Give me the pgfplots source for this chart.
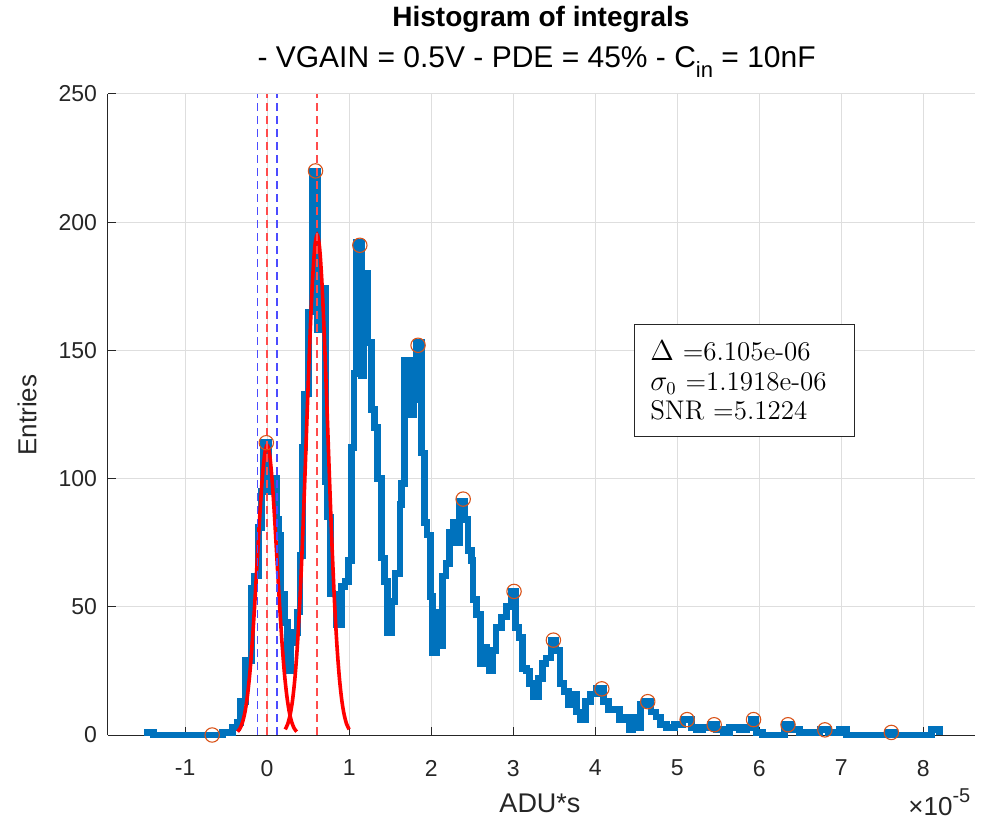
\documentclass[border=0pt]{standalone}
\usepackage{fontspec}
\setmainfont{Liberation Sans}
\newfontfamily\lmfont{Latin Modern Roman}
\usepackage{pgfplots}
\pgfplotsset{compat=1.18}
\definecolor{mblue}{rgb}{0,0.447,0.741}
\definecolor{morange}{rgb}{0.85,0.325,0.098}
\definecolor{axgray}{rgb}{0.15,0.15,0.15}
\definecolor{lred}{rgb}{1,0.3,0.3}
\definecolor{lblue}{rgb}{0.3,0.3,1}
\begin{document}
\begin{tikzpicture}
\begin{axis}[
 name=ax,
 scale only axis, width=433.5pt, height=320.5pt,
 xmin=-1.94, xmax=8.63, ymin=0, ymax=250,
 axis lines=left,
 axis line style={-, draw=axgray, line width=0.5pt},
 x axis line style={-}, y axis line style={-},
 xtick={-1,0,...,8}, xticklabels={-1,0,1,2,3,4,5,6,7,8},
 ytick={0,50,...,250},
 tick align=inside, major tick length=4pt,
 tick style={axgray, line width=0.5pt},
 grid=major, grid style={line width=0.5pt, black!13},
 ticklabel style={font=\fontsize{11.5}{13}\selectfont, text=axgray},
 /pgf/number format/assume math mode=true,
 xticklabel style={yshift=-9pt},
 yticklabel style={xshift=-2pt},
 clip=false,
]
% histogram (left bin edge, count)
\addplot[const plot, mblue, line width=3.4pt] coordinates {
(-1.50,1) (-1.39,0) (-0.54,1) (-0.42,3) (-0.36,5) (-0.32,13) (-0.26,29)
(-0.19,57) (-0.15,62) (-0.11,81) (-0.07,95) (-0.04,114) (0.02,95) (0.06,100)
(0.11,84) (0.14,78) (0.17,55) (0.21,44) (0.25,25) (0.29,36) (0.33,40)
(0.37,48) (0.40,70) (0.43,112) (0.46,133) (0.50,165) (0.55,220) (0.61,158)
(0.65,174) (0.71,99) (0.74,85) (0.77,55) (0.85,43) (0.91,58) (0.95,60)
(0.99,68) (1.03,112) (1.06,141) (1.09,192) (1.15,140) (1.18,180) (1.23,153)
(1.27,127) (1.31,120) (1.35,100) (1.39,69) (1.43,60) (1.47,40) (1.52,52)
(1.56,63) (1.62,90) (1.64,98) (1.67,146) (1.74,125) (1.79,131) (1.82,153) (1.88,110)
(1.92,83) (1.95,78) (1.99,54) (2.02,32) (2.06,48) (2.10,35) (2.14,62)
(2.18,67) (2.22,79) (2.27,83) (2.31,75) (2.35,91) (2.41,84) (2.45,72)
(2.49,68) (2.51,53) (2.55,47) (2.60,28) (2.63,34) (2.67,30) (2.71,25)
(2.75,33) (2.79,42) (2.86,46) (2.92,50) (2.98,56) (3.03,42) (3.07,38)
(3.11,26) (3.16,25) (3.20,20) (3.25,15) (3.31,22) (3.36,28) (3.40,30)
(3.46,37) (3.52,33) (3.57,20) (3.62,17) (3.67,12) (3.72,16) (3.77,9)
(3.82,6) (3.88,13) (3.94,16) (4.02,18) (4.10,13) (4.16,10) (4.30,6)
(4.38,7) (4.42,2) (4.46,7) (4.50,3) (4.55,12) (4.60,13) (4.68,9)
(4.74,7) (4.80,4) (4.87,3) (4.97,4) (5.07,6) (5.17,3) (5.23,2)
(5.31,3) (5.40,4) (5.48,2) (5.56,1) (5.64,3) (5.76,2) (5.84,3)
(5.90,6) (5.96,1) (6.04,0) (6.31,4) (6.39,2) (6.49,1) (6.74,2)
(6.84,1) (6.98,2) (7.06,0) (7.57,1) (7.65,0) (8.10,2) (8.20,0)
};
% Gaussian fit, peak 0
\addplot[red, line width=1.8pt, smooth] coordinates {
(-0.36,1.3) (-0.33,2.6) (-0.30,5.0) (-0.27,9.0) (-0.24,15.3) (-0.21,24.4)
(-0.18,36.7) (-0.15,51.7) (-0.12,68.5) (-0.09,85.3) (-0.06,99.7) (-0.03,109.5)
(0,113) (0.03,109.5) (0.06,99.7) (0.09,85.3) (0.12,68.5) (0.15,51.7)
(0.18,36.7) (0.21,24.4) (0.24,15.3) (0.27,9.0) (0.30,5.0) (0.33,2.6) (0.36,1.3)
};
% Gaussian fit, peak 1
\addplot[red, line width=1.8pt, smooth] coordinates {
(0.22,2.2) (0.25,4.2) (0.28,7.8) (0.31,13.6) (0.34,22.6) (0.37,35.5)
(0.40,52.9) (0.43,74.8) (0.46,100.2) (0.49,127.4) (0.52,153.4) (0.55,175.3)
(0.58,189.9) (0.61,195) (0.64,189.9) (0.67,175.3) (0.70,153.4) (0.73,127.4)
(0.76,100.2) (0.79,74.8) (0.82,52.9) (0.85,35.5) (0.88,22.6) (0.91,13.6)
(0.94,7.8) (0.97,4.2) (1.00,2.2)
};
% dashed markers
\addplot[draw=lred, line width=0.85pt, dash pattern=on 4pt off 2.5pt] coordinates {(0,0) (0,250)};
\addplot[draw=lred, line width=0.85pt, dash pattern=on 4pt off 2.5pt] coordinates {(0.6105,0) (0.6105,250)};
\addplot[draw=lblue, line width=0.85pt, dash pattern=on 4pt off 2.5pt] coordinates {(-0.119,0) (-0.119,250)};
\addplot[draw=lblue, line width=0.85pt, dash pattern=on 4pt off 2.5pt] coordinates {(0.119,0) (0.119,250)};
% peaks
\addplot[only marks, mark=o, mark size=3.6pt, color=morange, mark options={line width=0.55pt}] coordinates {
(-0.67,0) (-0.01,114) (0.59,220) (1.13,191) (1.84,152) (2.39,92) (3.01,56)
(3.49,37) (4.08,18) (4.64,13) (5.12,6) (5.45,4) (5.93,6) (6.35,4) (6.80,2) (7.61,1)
};
\node[draw=axgray, fill=white, line width=0.5pt, anchor=north west,
 minimum width=110pt, minimum height=56pt, text width=94pt, align=left,
 inner xsep=8pt, font=\lmfont\fontsize{13.5}{14.8}\selectfont]
 at (axis cs:4.47,160.3) {$\Delta$ =6.105e-06\\$\sigma_0$ =1.1918e-06\\SNR =5.1224};
\end{axis}
\node[anchor=base, font=\bfseries\fontsize{14}{16}\selectfont] at ([shift={(216.5pt,354pt)}]ax.south west) {Histogram of integrals};
\node[anchor=base, font=\fontsize{15}{17}\selectfont] at ([shift={(214.3pt,333.5pt)}]ax.south west) {- VGAIN = 0.5V - PDE = 45\% - C\raisebox{-5pt}{\fontsize{11}{12}\selectfont in} = 10nF};
\node[rotate=90, font=\fontsize{13}{15}\selectfont, text=axgray] at ([shift={(-40.5pt,160pt)}]ax.south west) {Entries};
\node[font=\fontsize{13.5}{15}\selectfont, text=axgray] at ([shift={(216pt,-34pt)}]ax.south west) {ADU*s};
\node[anchor=base west, font=\fontsize{13}{15}\selectfont, text=axgray, inner sep=0pt] at ([shift={(400pt,-40pt)}]ax.south west) {×10\raisebox{6.5pt}{\fontsize{10}{11}\selectfont -5}};
\pgfresetboundingbox
\path ([shift={(-54pt,-42.5pt)}]ax.south west) rectangle ([shift={(436.5pt,367.5pt)}]ax.south west);
\end{tikzpicture}
\end{document}
